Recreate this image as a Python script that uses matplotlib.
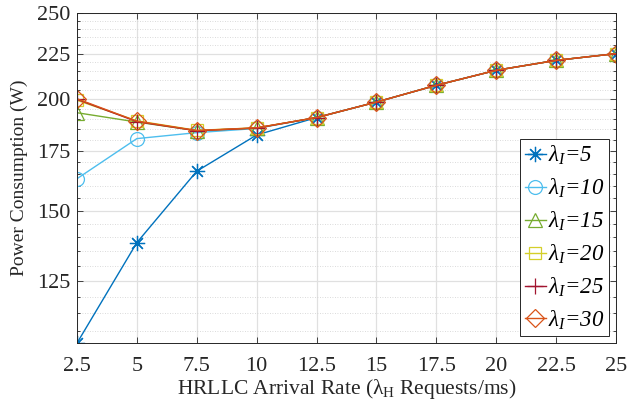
import matplotlib
matplotlib.use("Agg")
import matplotlib.pyplot as plt
from matplotlib.ticker import FixedLocator, MultipleLocator, NullFormatter, FixedFormatter
import numpy as np

plt.rcParams['font.family'] = ['Liberation Serif', 'DejaVu Serif']
plt.rcParams['mathtext.fontset'] = 'custom'
plt.rcParams['mathtext.rm'] = 'Liberation Serif'
plt.rcParams['mathtext.it'] = 'Liberation Serif:italic'
plt.rcParams['mathtext.bf'] = 'Liberation Serif:bold'

x = [2.5, 5, 7.5, 10, 12.5, 15, 17.5, 20, 22.5, 25]
tail = [190.8, 198.6, 207.4, 215.6, 221.2, 225.1]
lam5 = [106.5, 138.1, 166.1, 182.4] + tail
lam10 = [162.9, 180.7, 183.5, 185.5] + tail
lam15 = [193.2, 188.6, 184.4, 185.7] + tail
lam20 = [199.5, 189.2, 184.6, 185.8] + tail
lam25 = [200.0, 188.8, 184.4, 185.7] + tail
lam30 = [200.3, 189.0, 184.5, 185.8] + tail

series = [lam5, lam10, lam15, lam20, lam25, lam30]
labels = ['5', '10', '15', '20', '25', '30']
colors = ['#0072BD', '#4DBEEE', '#77AC30', '#D4CF2A', '#A2142F', '#D95319']
markers = [(8, 2, 0), 'o', '^', 's', '+', 'D']
msizes = [11, 10, 10, 8.5, 11, 9]

yticks = [125, 150, 175, 200, 225, 250]
xticks = [2.5, 5, 7.5, 10, 12.5, 15, 17.5, 20, 22.5, 25]
xticklabels = ['2.5', '5', '7.5', '10', '12.5', '15', '17.5', '20', '22.5', '25']

fig = plt.figure(figsize=(6.4, 4.07), dpi=100)
ax = fig.add_axes([0.1203, 0.157, 0.8422, 0.811])

for ys, lab, c, m, ms in zip(series, labels, colors, markers, msizes):
    ax.plot(x, ys, color=c, marker=m, markersize=ms, markerfacecolor='none',
            markeredgecolor=c, markeredgewidth=0.9, linewidth=1.0,
            label=r'$\lambda_{I}$=' + lab)

ax.set_yscale('log')
ax.set_xlim(2.5, 25)
ax.set_ylim(min(lam5), 250)
ax.yaxis.set_major_locator(FixedLocator(yticks))
ax.yaxis.set_major_formatter(FixedFormatter([str(v) for v in yticks]))
ax.yaxis.set_minor_locator(MultipleLocator(5))
ax.yaxis.set_minor_formatter(NullFormatter())
ax.xaxis.set_major_locator(FixedLocator(xticks))
ax.xaxis.set_major_formatter(FixedFormatter(xticklabels))

ax.grid(True, which='major', color='#e0e0e0', linewidth=0.9, linestyle='-')
ax.grid(True, which='minor', axis='y', color='#cfcfcf', linewidth=0.6, linestyle=(0, (1, 2)))
ax.set_axisbelow(True)

ax.tick_params(which='both', direction='in', top=True, right=True, labelsize=16, colors='#262626')
ax.tick_params(which='major', length=4, width=0.6)
ax.tick_params(which='minor', length=2.5, width=0.6)
ax.tick_params(axis='x', pad=10)
ax.tick_params(axis='y', pad=5)
for s in ax.spines.values():
    s.set_color('#262626')
    s.set_linewidth(0.7)

ax.set_xlabel(r'HRLLC Arrival Rate ($\mathregular{\lambda_H}$ Requests/ms)', fontsize=15.5, color='#262626', labelpad=1)
ax.set_ylabel('Power Consumption (W)', fontsize=14, color='#262626', labelpad=6)

leg = ax.legend(loc='lower right', bbox_to_anchor=(0.993, 0.01),
                prop={'style': 'italic', 'size': 16.5}, frameon=True, fancybox=False,
                edgecolor='#262626', framealpha=1, handlelength=0.9, handletextpad=0.1,
                borderpad=0.2, labelspacing=0.42, borderaxespad=0.15)
leg.get_frame().set_linewidth(0.7)

fig.savefig('out.png', dpi=100)
